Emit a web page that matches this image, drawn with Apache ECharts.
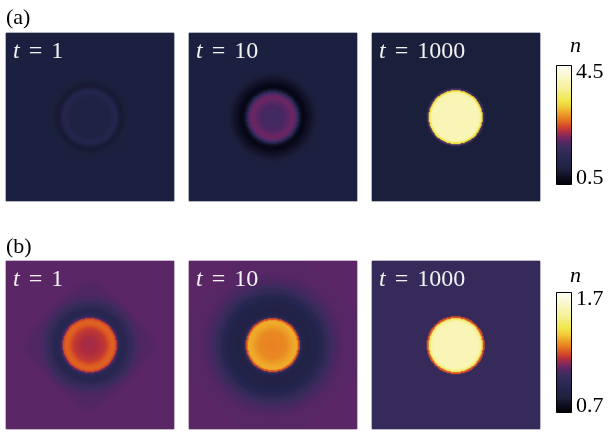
<!DOCTYPE html>
<html>
<head>
<meta charset="utf-8">
<script src="https://cdn.jsdelivr.net/npm/echarts@6/dist/echarts.min.js"></script>
<style>
  html, body { margin: 0; padding: 0; background: #ffffff; }
  #chart { width: 612px; height: 432px; }
</style>
</head>
<body>
<div id="chart"></div>
<script>
// Each panel is a 168 x 168 cell density map n(x, y) around a centred droplet.
// Radial profiles give n every PROFILE_STEP cells outward from the centre;
// past the end of a profile the last value holds (the far field).
const GRID_CELLS = 168;
const PROFILE_STEP = 2;
const TIMES = ['1', '10', '1000'];
const ROW_LABELS = ['(a)', '(b)'];
const RANGE_A = [0.5, 4.5];
const RANGE_B = [0.7, 1.7];

// Row (a)
const PROFILE_A_T1 = [1.12, 1.12, 1.12, 1.12, 1.12, 1.12, 1.12, 1.12, 1.12, 1.12,
  1.14, 1.22, 1.34, 1.36, 1.12, 0.95, 0.93, 0.95, 0.97, 0.99, 1.00];
const PROFILE_A_T10 = [1.80, 1.80, 1.80, 1.81, 1.82, 1.84, 1.87, 1.92, 1.97, 2.02,
  2.04, 2.00, 1.80, 1.30, 0.80, 0.66, 0.68, 0.74, 0.80, 0.86, 0.91, 0.95, 0.98, 1.00];
const PROFILE_A_T1000 = [3.98, 3.98, 3.98, 3.98, 3.98, 3.98, 3.98, 3.98, 3.98, 3.98,
  3.98, 3.98, 3.90, 3.30, 1.80, 0.98];

// Row (b)
const PROFILE_B_T1 = [1.140, 1.140, 1.140, 1.142, 1.145, 1.150, 1.156, 1.163, 1.172,
  1.190, 1.210, 1.222, 1.222, 1.190, 1.050, 0.950, 0.930, 0.930, 0.940, 0.960, 0.980,
  1.000, 1.015, 1.030, 1.040, 1.045];
const PROFILE_B_T10 = [1.260, 1.260, 1.260, 1.262, 1.265, 1.268, 1.272, 1.278, 1.285,
  1.295, 1.305, 1.315, 1.310, 1.200, 0.980, 0.900, 0.880, 0.875, 0.875, 0.880, 0.885,
  0.890, 0.900, 0.910, 0.925, 0.940, 0.960, 0.980, 1.000, 1.015, 1.025, 1.035, 1.040,
  1.045, 1.050, 1.055, 1.060];
const PROFILE_B_T1000 = [1.57, 1.57, 1.57, 1.57, 1.57, 1.57, 1.57, 1.57, 1.57, 1.57,
  1.57, 1.57, 1.55, 1.45, 1.20, 1.00];

// Faint rounded-diamond shelves in the far field of row (b),
// indexed by diamond distance (in profile steps) starting at the given step.
const SHELF_B_T1_FROM = 26;
const SHELF_B_T1 = [1.050, 1.050, 1.050, 1.050, 1.050, 1.050, 1.055, 1.060, 1.065, 1.070];
const SHELF_B_T10_FROM = 37;
const SHELF_B_T10 = [1.060, 1.060, 1.060, 1.060, 1.060, 1.060, 1.060, 1.060, 1.060,
  1.060, 1.060, 1.060, 1.060, 1.060, 1.060, 1.065, 1.070];

// Colour scale, as (fraction of range, colour) stops
const CMAP_STOPS = [
  [0.000, '#020208'], [0.060, '#0d0e20'], [0.125, '#1f2240'], [0.220, '#272850'],
  [0.310, '#3a2e5e'], [0.370, '#5e2866'], [0.410, '#882a5c'], [0.450, '#b2303e'],
  [0.490, '#d4482a'], [0.550, '#e67a22'], [0.610, '#eea82c'], [0.660, '#f0d03a'],
  [0.710, '#f2e64c'], [0.820, '#f6f29e'], [1.000, '#fdfdf4']
];

const SERIF = "'Liberation Serif', 'Times New Roman', serif";
const PANEL_SIZE = 168;
const PANEL_LEFT = [6, 189, 372];
const PANEL_TOP = [33, 261];
const BAR = { left: 557, width: 14, top: [66, 293], height: [118, 119] };

function hexToRgb(h) {
  return [parseInt(h.slice(1, 3), 16), parseInt(h.slice(3, 5), 16), parseInt(h.slice(5, 7), 16)];
}
// Evenly spaced palette for visualMap from the stop list
function palette(count) {
  const out = [];
  for (let k = 0; k < count; k++) {
    const f = k / (count - 1);
    let s = 0;
    while (s < CMAP_STOPS.length - 2 && CMAP_STOPS[s + 1][0] < f) s++;
    const [f0, c0] = CMAP_STOPS[s];
    const [f1, c1] = CMAP_STOPS[s + 1];
    const t = Math.min(1, Math.max(0, (f - f0) / (f1 - f0)));
    const a = hexToRgb(c0), b = hexToRgb(c1);
    out.push('rgb(' + a.map((v, i) => Math.round(v + (b[i] - v) * t)).join(',') + ')');
  }
  return out;
}

function buildField(profile, shelf, shelfFrom) {
  const data = [];
  const c = (GRID_CELLS - 1) / 2;
  for (let i = 0; i < GRID_CELLS; i++) {
    for (let j = 0; j < GRID_CELLS; j++) {
      const dx = (i - c) / PROFILE_STEP, dy = (j - c) / PROFILE_STEP;
      const k = Math.round(Math.hypot(dx, dy));
      let v;
      if (k < profile.length) {
        v = profile[k];
      } else if (shelf) {
        const d = Math.pow(Math.pow(Math.abs(dx), 1.2) + Math.pow(Math.abs(dy), 1.2), 1 / 1.2);
        const m = Math.min(shelf.length - 1, Math.max(0, Math.round(d) - shelfFrom));
        v = shelf[m];
      } else {
        v = profile[profile.length - 1];
      }
      data.push([i, j, v]);
    }
  }
  return data;
}

const CELLS = Array.from({ length: GRID_CELLS }, (_, i) => String(i));
const fields = [
  buildField(PROFILE_A_T1), buildField(PROFILE_A_T10), buildField(PROFILE_A_T1000),
  buildField(PROFILE_B_T1, SHELF_B_T1, SHELF_B_T1_FROM),
  buildField(PROFILE_B_T10, SHELF_B_T10, SHELF_B_T10_FROM),
  buildField(PROFILE_B_T1000)
];
const ranges = [RANGE_A, RANGE_B];

const grids = [], xAxes = [], yAxes = [], series = [], titles = [];
const hiddenAxis = { show: false };
const labelFont = { fontFamily: SERIF, fontWeight: 'normal', fontSize: 24, color: '#f2f2f2' };

// Six map panels
for (let row = 0; row < 2; row++) {
  for (let col = 0; col < 3; col++) {
    const g = grids.length;
    grids.push({ left: PANEL_LEFT[col], top: PANEL_TOP[row], width: PANEL_SIZE, height: PANEL_SIZE });
    xAxes.push(Object.assign({ type: 'category', gridIndex: g, data: CELLS, boundaryGap: true }, hiddenAxis));
    yAxes.push(Object.assign({ type: 'category', gridIndex: g, data: CELLS, boundaryGap: true }, hiddenAxis));
    series.push({
      type: 'heatmap', xAxisIndex: g, yAxisIndex: yAxes.length - 1,
      data: fields[row * 3 + col], progressive: 0, silent: true,
      itemStyle: { borderWidth: 0 }, emphasis: { disabled: true }
    });
    titles.push({
      left: PANEL_LEFT[col] + 7, top: PANEL_TOP[row] + 7, padding: 0,
      text: '{i|t}{e|=}{v|' + TIMES[col] + '}',
      textStyle: Object.assign({}, labelFont, {
        rich: {
          i: Object.assign({ fontStyle: 'italic' }, labelFont),
          e: Object.assign({ padding: [0, 9] }, labelFont),
          v: Object.assign({}, labelFont)
        }
      })
    });
  }
}

// Colour bars: a one-column heatmap plus a value axis for the end labels
const barSeries = [];
for (let row = 0; row < 2; row++) {
  const [lo, hi] = ranges[row];
  const steps = BAR.height[row];
  const g = grids.length;
  grids.push({ left: BAR.left, top: BAR.top[row], width: BAR.width, height: steps });
  xAxes.push(Object.assign({ type: 'category', gridIndex: g, data: ['n'] }, hiddenAxis));
  const catIndex = yAxes.length;
  yAxes.push(Object.assign({ type: 'category', gridIndex: g, data: Array.from({ length: steps }, (_, k) => String(k)) }, hiddenAxis));
  yAxes.push({
    type: 'value', gridIndex: g, position: 'right', min: lo, max: hi, interval: hi - lo,
    axisLine: { show: false }, axisTick: { show: false }, splitLine: { show: false },
    axisLabel: {
      margin: 5, color: '#000',
      formatter: v => (Math.abs(v - hi) < 1e-9 ? '{hi|' + hi.toFixed(1) + '}' : '{lo|' + lo.toFixed(1) + '}'),
      rich: {
        hi: { fontFamily: SERIF, fontWeight: 'normal', fontSize: 22, color: '#000', padding: [12, 0, 0, 0] },
        lo: { fontFamily: SERIF, fontWeight: 'normal', fontSize: 22, color: '#000', padding: [0, 0, 12, 0] }
      }
    }
  });
  const barData = [];
  for (let k = 0; k < steps; k++) barData.push([0, k, lo + (hi - lo) * (k + 0.5) / steps]);
  barSeries.push(series.length);
  series.push({
    type: 'heatmap', xAxisIndex: g, yAxisIndex: catIndex, data: barData,
    progressive: 0, silent: true, emphasis: { disabled: true }
  });
  titles.push({
    left: 570, top: row === 0 ? 35 : 265, padding: 0, text: 'n',
    textStyle: { fontFamily: SERIF, fontStyle: 'italic', fontWeight: 'normal', fontSize: 22, color: '#000' }
  });
}

// Row captions
titles.push({ left: 6, top: 7, padding: 0, text: ROW_LABELS[0],
  textStyle: { fontFamily: SERIF, fontWeight: 'normal', fontSize: 22, color: '#000' } });
titles.push({ left: 6, top: 236, padding: 0, text: ROW_LABELS[1],
  textStyle: { fontFamily: SERIF, fontWeight: 'normal', fontSize: 22, color: '#000' } });

const colours = palette(161);
const option = {
  animation: false,
  backgroundColor: '#ffffff',
  title: titles,
  grid: grids,
  xAxis: xAxes,
  yAxis: yAxes,
  visualMap: [
    { type: 'continuous', show: false, min: RANGE_A[0], max: RANGE_A[1], seriesIndex: [0, 1, 2, barSeries[0]], inRange: { color: colours } },
    { type: 'continuous', show: false, min: RANGE_B[0], max: RANGE_B[1], seriesIndex: [3, 4, 5, barSeries[1]], inRange: { color: colours } }
  ],
  graphic: [0, 1].map(row => ({
    type: 'rect', silent: true, z: 100,
    shape: { x: BAR.left - 0.5, y: BAR.top[row] - 0.5, width: BAR.width + 1, height: BAR.height[row] + 1 },
    style: { fill: 'none', stroke: '#000', lineWidth: 1 }
  })),
  series: series
};

const chart = echarts.init(document.getElementById('chart'), null, { renderer: 'canvas' });
chart.setOption(option);
</script>
</body>
</html>
